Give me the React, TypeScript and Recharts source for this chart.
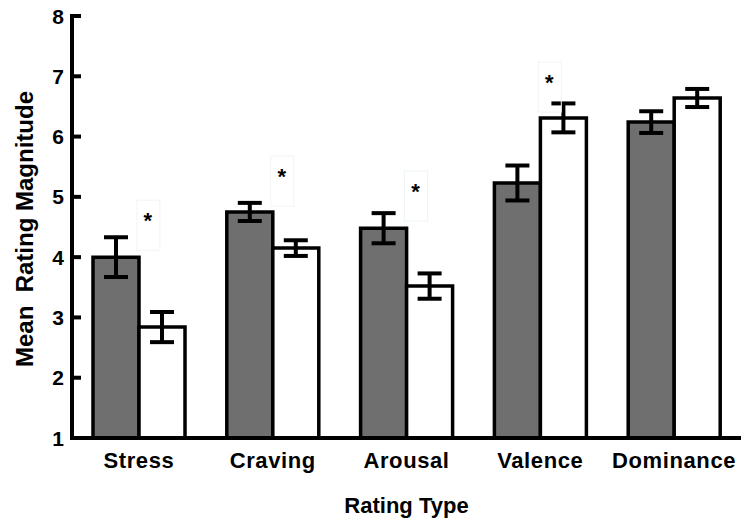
import React from "react";
import { ComposedChart, Bar, ErrorBar, XAxis, YAxis, Scatter, Label } from "recharts";

const ratingTypes = ["Stress", "Craving", "Arousal", "Valence", "Dominance"];
const grayMeans = [4.0, 4.75, 4.48, 5.23, 6.24];
const grayErrors = [0.33, 0.15, 0.25, 0.29, 0.18];
const whiteMeans = [2.84, 4.15, 3.52, 6.31, 6.64];
const whiteErrors = [0.25, 0.13, 0.21, 0.24, 0.15];
const starLevels: (number | null)[] = [4.68, 5.41, 5.16, 6.97, null];
const yTicks = [1, 2, 3, 4, 5, 6, 7, 8];

const data = ratingTypes.map((name, i) => ({
  name,
  gray: grayMeans[i],
  grayErr: grayErrors[i],
  white: whiteMeans[i],
  whiteErr: whiteErrors[i],
  star: starLevels[i],
}));

const FONT = "Arial, 'Liberation Sans', Helvetica, sans-serif";

const YTick = (props: any) => {
  const { x, y, payload } = props;
  return (
    <g>
      <line x1={x + 8} x2={x + 17} y1={y} y2={y} stroke="#000" strokeWidth={4} />
      <text
        x={x}
        y={y}
        dy="0.36em"
        textAnchor="end"
        fontFamily={FONT}
        fontWeight="bold"
        fontSize={21}
        fill="#000"
      >
        {payload.value}
      </text>
    </g>
  );
};

const XTick = (props: any) => {
  const { x, y, payload } = props;
  return (
    <text
      x={x}
      y={y}
      dy="0.71em"
      textAnchor="middle"
      fontFamily={FONT}
      fontWeight="bold"
      fontSize={22}
      letterSpacing={0.6}
      fill="#000"
    >
      {payload.value}
    </text>
  );
};

const Star = (props: any) => {
  const { cx, cy, payload } = props;
  if (payload == null || payload.star == null) return null;
  return (
    <g>
      <rect x={cx - 2} y={cy - 16} width={23} height={50} fill="none" stroke="#eef5f5" strokeWidth={1} />
      <text
        x={cx + 9}
        y={cy + 12}
        textAnchor="middle"
        fontFamily={FONT}
        fontWeight="bold"
        fontSize={22}
        fill="#000"
      >
        *
      </text>
    </g>
  );
};

export default function App() {
  return (
    <div style={{ position: "absolute", left: 0, top: 0, background: "#fff" }}>
      <ComposedChart
        width={741}
        height={522}
        data={data}
        margin={{ top: 16, right: 0, bottom: 0, left: 0 }}
        barCategoryGap={21}
        barGap={0}
      >
        <XAxis
          dataKey="name"
          height={84}
          tickLine={false}
          tickSize={0}
          tickMargin={14}
          tick={<XTick />}
          axisLine={{ stroke: "#000", strokeWidth: 4 }}
          interval={0}
        >
          <Label
            value="Rating Type"
            position="insideBottom"
            offset={9}
            fontFamily={FONT}
            fontWeight="bold"
            fontSize={22}
            fill="#000"
          />
        </XAxis>
        <YAxis
          width={72}
          domain={[1, 8]}
          ticks={yTicks}
          interval={0}
          tickLine={false}
          tickSize={0}
          tickMargin={8}
          tick={<YTick />}
          axisLine={{ stroke: "#000", strokeWidth: 4, strokeLinecap: "square" }}
          allowDataOverflow
        >
          <Label
            content={() => (
              <text
                x={33}
                y={229}
                transform="rotate(-90 33 229)"
                textAnchor="middle"
                fontFamily={FONT}
                fontWeight="bold"
                fontSize={24}
                fill="#000"
                style={{ whiteSpace: "pre" }}
              >
                {"Mean  Rating Magnitude"}
              </text>
            )}
          />
        </YAxis>
        <Bar dataKey="gray" fill="#6f6f6f" stroke="#000" strokeWidth={3.5} isAnimationActive={false}>
          <ErrorBar dataKey="grayErr" width={12} strokeWidth={4} stroke="#000" />
        </Bar>
        <Bar dataKey="white" fill="#fff" stroke="#000" strokeWidth={3.5} isAnimationActive={false}>
          <ErrorBar dataKey="whiteErr" width={12} strokeWidth={4} stroke="#000" />
        </Bar>
        <Scatter dataKey="star" shape={<Star />} isAnimationActive={false} />
      </ComposedChart>
    </div>
  );
}
